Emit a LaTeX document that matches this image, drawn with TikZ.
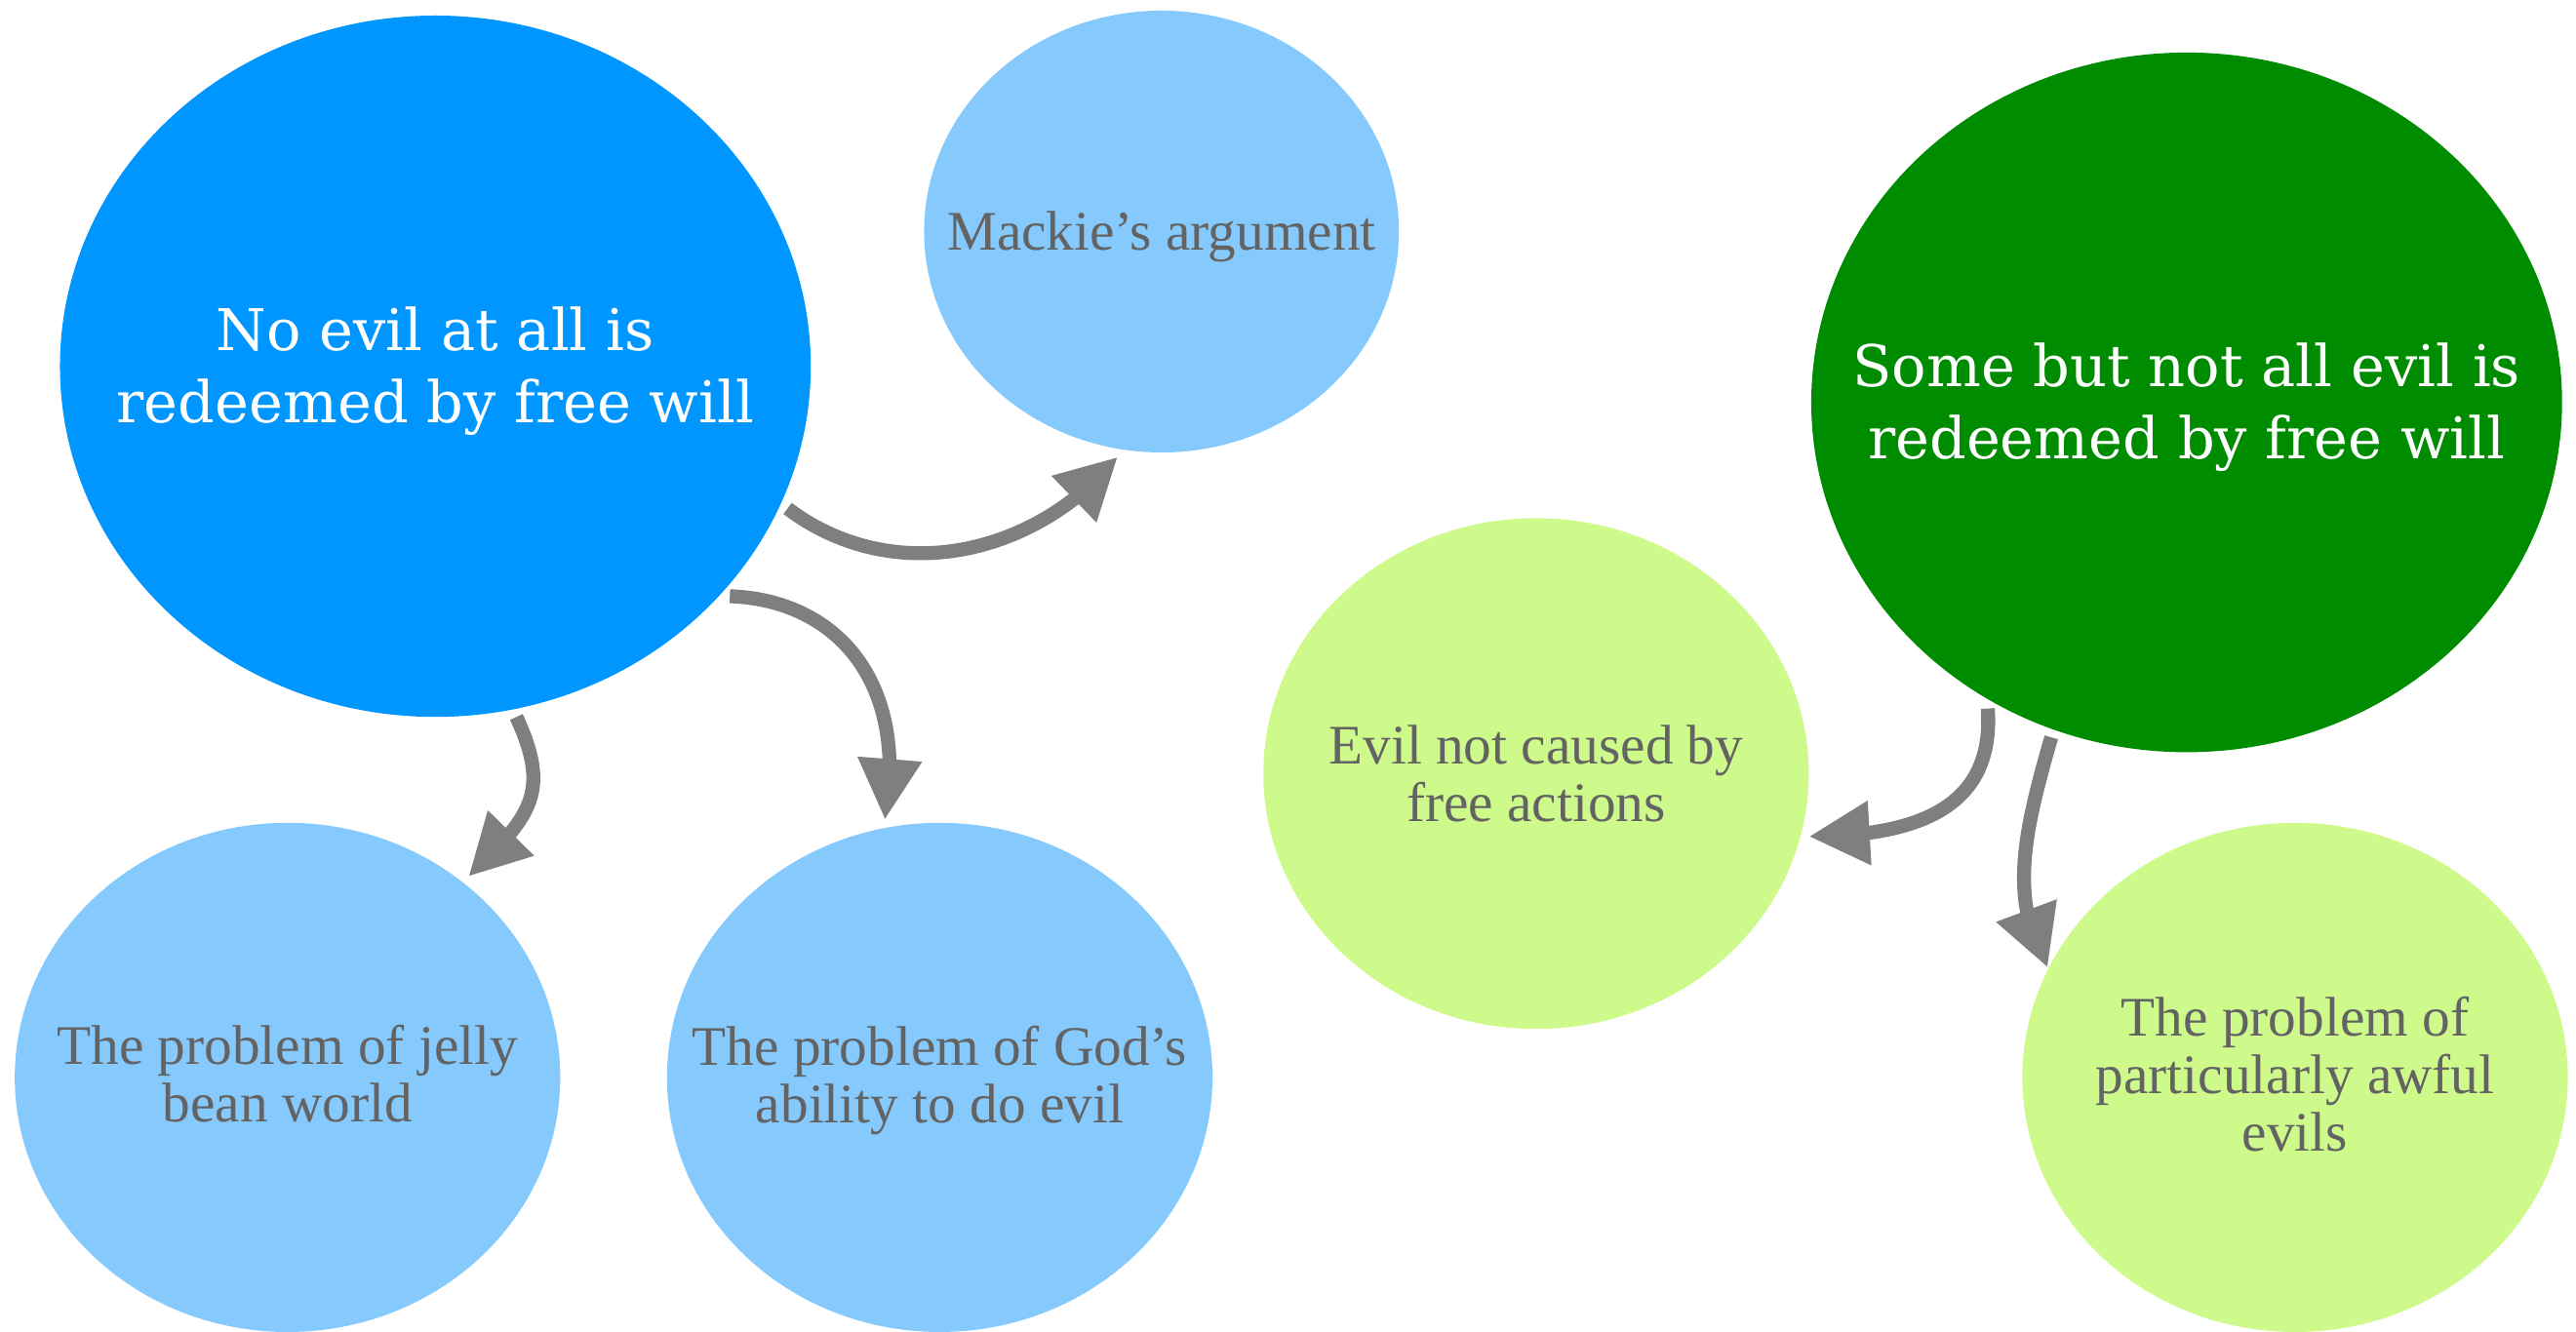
\documentclass[tikz,border=0pt]{standalone}
\usepackage{fontspec}
\setmainfont{Liberation Serif}
\newfontfamily\bigfont{DejaVu Serif}
\usetikzlibrary{shapes.geometric,arrows.meta,bending}
\definecolor{dblue}{RGB}{0,150,255}
\definecolor{lblue}{RGB}{133,201,253}
\definecolor{dgreen}{RGB}{0,140,0}
\definecolor{lgreen}{RGB}{206,250,140}
\definecolor{txtgray}{RGB}{99,99,99}
\definecolor{arrgray}{RGB}{127,127,127}
\begin{document}
\begin{tikzpicture}[x=1pt,y=1pt,
  blob/.style={ellipse, draw=none, inner sep=0pt, outer sep=5pt},
  bigblob/.style={blob, minimum width=457pt, minimum height=427pt},
  smallblob/.style={blob, minimum width=332pt, minimum height=310pt},
  bigtxt/.style={inner sep=0pt, font=\bigfont\fontsize{35}{44}\selectfont, text=white, align=center},
  smalltxt/.style={inner sep=0pt, font=\fontsize{34}{35}\selectfont, text=txtgray, align=center},
  conn/.style={draw=arrgray, line width=8.5pt, -{Triangle[length=37pt,width=37pt,flex]}}]
\useasboundingbox (0,0) rectangle (1568,811);
% ellipses
\node[bigblob, fill=dblue] (noevil) at (265,588) {};
\node[blob, fill=lblue, minimum width=289pt, minimum height=269pt] (mackie) at (707,670) {};
\node[bigblob, fill=dgreen, minimum height=426pt] (some) at (1331,566) {};
\node[smallblob, fill=lgreen, minimum height=311pt] (notcaused) at (935,340) {};
\node[smallblob, fill=lblue] (jelly) at (175,155) {};
\node[smallblob, fill=lblue] (god) at (572,155) {};
\node[smallblob, fill=lgreen] (awful) at (1397,155) {};
% texts
\node[bigtxt] (noevilt) at (265,585) {No evil at all is\\redeemed by free will};
\node[bigtxt] (somet) at (1331,563) {Some but not all evil is\\redeemed by free will};
\node[smalltxt] (mackiet) at (707,667) {Mackie’s argument};
\node[smalltxt] (notcausedt) at (935,340) {Evil not caused by\\free actions};
\node[smalltxt] (jellyt) at (175,157) {The problem of jelly\\bean world};
\node[smalltxt] (godt) at (572,153) {The problem of God’s\\ability to do evil};
\node[smalltxt] (awfult) at (1397,157) {The problem of\\particularly awful\\evils};
% connectors
\draw[conn] (noevil.-22) to[out=-37, in=-130] (mackie.-101);
\draw[conn] (noevil.-38) .. controls +(-2:65) and +(80:85) .. (god.102);
\draw[conn] (noevil.-77) to[out=-65, in=44, looseness=1.3] (jelly.48);
\draw[conn] (some.-123.6) .. controls +(-86:55) and +(0:75) .. (notcaused.-13.6);
\draw[conn, shorten >=-5pt] (some.-112) .. controls +(-106:60) and +(117:45) .. (awful.155);
\end{tikzpicture}
\end{document}
